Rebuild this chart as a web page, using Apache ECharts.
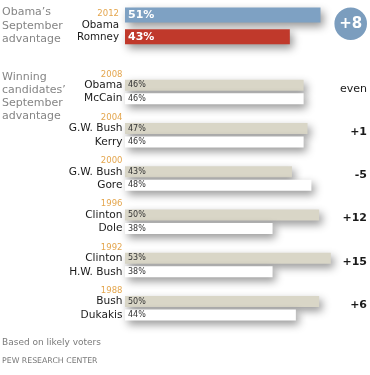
<!DOCTYPE html>
<html>
<head>
<meta charset="utf-8">
<script src="https://cdn.jsdelivr.net/npm/echarts@6/dist/echarts.min.js"></script>
<style>
  html, body { margin: 0; padding: 0; background: #fff; }
  #chart { width: 370px; height: 375px; }
</style>
</head>
<body>
<div id="chart"></div>
<script>
// ---- data ----
const currentYear = ['2012'];
const currentWinner = ['Obama'];
const currentLoser = ['Romney'];
const currentWinnerPct = [51];
const currentLoserPct = [43];
const currentMargin = ['+8'];

const years = ['2008', '2004', '2000', '1996', '1992', '1988'];
const winners = ['Obama', 'G.W. Bush', 'G.W. Bush', 'Clinton', 'Clinton', 'Bush'];
const losers = ['McCain', 'Kerry', 'Gore', 'Dole', 'H.W. Bush', 'Dukakis'];
const winnerPct = [46, 47, 43, 50, 53, 50];
const loserPct = [46, 46, 48, 38, 38, 44];
const margins = ['even', '+1', '-5', '+12', '+15', '+6'];

const titleTop = 'Obama\u2019s\nSeptember\nadvantage';
const titleMid = 'Winning\ncandidates\u2019\nSeptember\nadvantage';
const noteText = 'Based on likely voters';
const sourceText = 'PEW RESEARCH CENTER';

// ---- styles ----
const FONT = '"DejaVu Sans", Verdana, sans-serif';
const YEAR_COLOR = '#e4a64e';
const BLUE = '#7ea1c3';
const RED = '#c0392b';
const BEIGE = '#d9d6c7';
const shadow = { shadowBlur: 8, shadowColor: 'rgba(0,0,0,0.42)', shadowOffsetX: 3, shadowOffsetY: 4 };

const chart = echarts.init(document.getElementById('chart'), null, { renderer: 'canvas' });

const gridLeft = 125, gridWidth = 233.3;

const option = {
  animation: false,
  textStyle: { fontFamily: FONT },
  title: [
    { text: titleTop, left: 2, top: 6, padding: 0,
      textStyle: { fontFamily: FONT, fontSize: 11, fontWeight: 'normal', color: '#858585', lineHeight: 13.2 } },
    { text: titleMid, left: 2, top: 70, padding: 0,
      textStyle: { fontFamily: FONT, fontSize: 11, fontWeight: 'normal', color: '#858585', lineHeight: 13.3 } },
    { text: noteText, left: 2, top: 337.5, padding: 0,
      textStyle: { fontFamily: FONT, fontSize: 9, fontWeight: 'normal', color: '#7a7a7a', lineHeight: 11 } },
    { text: sourceText, left: 2, top: 356.5, padding: 0,
      textStyle: { fontFamily: FONT, fontSize: 7.8, fontWeight: 'normal', color: '#777', lineHeight: 9 } }
  ],
  grid: [
    { left: gridLeft, width: gridWidth, top: 4.1, height: 43.5 },
    { left: gridLeft, width: gridWidth, top: 70.3, height: 259.7 }
  ],
  xAxis: [
    { gridIndex: 0, type: 'value', min: 0, max: 60, show: false },
    { gridIndex: 1, type: 'value', min: 0, max: 60, show: false }
  ],
  yAxis: [
    { gridIndex: 0, type: 'category', data: currentYear, inverse: true, position: 'left',
      axisLine: { show: false }, axisTick: { show: false }, splitLine: { show: false },
      axisLabel: {
        interval: 0, margin: 6, align: 'right',
        formatter: (v, i) => '{y|' + v + '}\n{n|' + currentWinner[i] + '}\n{n|' + currentLoser[i] + '}',
        rich: {
          y: { fontFamily: FONT, fontSize: 8.5, color: YEAR_COLOR, lineHeight: 11 },
          n: { fontFamily: FONT, fontSize: 10.3, color: '#1a1a1a', lineHeight: 12 }
        }
      } },
    { gridIndex: 0, type: 'category', data: currentYear, inverse: true, position: 'right',
      axisLine: { show: false }, axisTick: { show: false }, splitLine: { show: false },
      axisLabel: {
        interval: 0, margin: 12, align: 'right',
        formatter: (v, i) => '{c|' + currentMargin[i] + '}\n{e| }',
        rich: {
          c: { fontFamily: FONT, fontSize: 15, fontWeight: 'bold', color: '#fff',
               backgroundColor: '#7b9dbe', borderRadius: 16.3, width: 32.6, height: 32.6,
               lineHeight: 32.6, align: 'center' },
          e: { fontSize: 4, lineHeight: 4.3 }
        }
      } },
    { gridIndex: 1, type: 'category', data: years, inverse: true, position: 'left',
      axisLine: { show: false }, axisTick: { show: false }, splitLine: { show: false },
      axisLabel: {
        interval: 0, margin: 2.5, align: 'right',
        formatter: (v, i) => '{y|' + v + '}\n{n|' + winners[i] + '}\n{n|' + losers[i] + '}\n{e| }',
        rich: {
          y: { fontFamily: FONT, fontSize: 8.5, color: YEAR_COLOR, lineHeight: 8 },
          n: { fontFamily: FONT, fontSize: 10.6, color: '#1a1a1a', lineHeight: 13.5 },
          e: { fontSize: 4, lineHeight: 8 }
        }
      } },
    { gridIndex: 1, type: 'category', data: years, inverse: true, position: 'right',
      axisLine: { show: false }, axisTick: { show: false }, splitLine: { show: false },
      axisLabel: {
        interval: 0, margin: 9, align: 'right',
        formatter: (v, i) => (margins[i] === 'even' ? '{r|' : '{d|') + margins[i] + '}\n{e| }',
        rich: {
          d: { fontFamily: FONT, fontSize: 11, fontWeight: 'bold', color: '#1a1a1a', lineHeight: 13 },
          r: { fontFamily: FONT, fontSize: 11, fontWeight: 'normal', color: '#1a1a1a', lineHeight: 13 },
          e: { fontSize: 4, lineHeight: 6.6 }
        }
      } }
  ],
  series: [
    { type: 'bar', xAxisIndex: 0, yAxisIndex: 0, data: currentWinnerPct,
      barWidth: 15, barGap: '45%',
      itemStyle: Object.assign({ color: BLUE }, shadow),
      label: { show: true, position: 'insideLeft', distance: 3, formatter: '{c}%',
               fontFamily: FONT, fontSize: 11, fontWeight: 'bold', color: '#fff' } },
    { type: 'bar', xAxisIndex: 0, yAxisIndex: 0, data: currentLoserPct,
      barWidth: 15, barGap: '45%',
      itemStyle: Object.assign({ color: RED }, shadow),
      label: { show: true, position: 'insideLeft', distance: 3, formatter: '{c}%',
               fontFamily: FONT, fontSize: 11, fontWeight: 'bold', color: '#fff' } },
    { type: 'bar', xAxisIndex: 1, yAxisIndex: 2, data: winnerPct,
      barWidth: 11, barGap: '23%',
      itemStyle: Object.assign({ color: BEIGE }, shadow),
      label: { show: true, position: 'insideLeft', distance: 3, formatter: '{c}%',
               fontFamily: FONT, fontSize: 8, color: '#333' } },
    { type: 'bar', xAxisIndex: 1, yAxisIndex: 2, data: loserPct,
      barWidth: 11, barGap: '23%',
      itemStyle: Object.assign({ color: '#ffffff' }, shadow),
      label: { show: true, position: 'insideLeft', distance: 3, formatter: '{c}%',
               fontFamily: FONT, fontSize: 8, color: '#333' } }
  ]
};

chart.setOption(option);
</script>
</body>
</html>
